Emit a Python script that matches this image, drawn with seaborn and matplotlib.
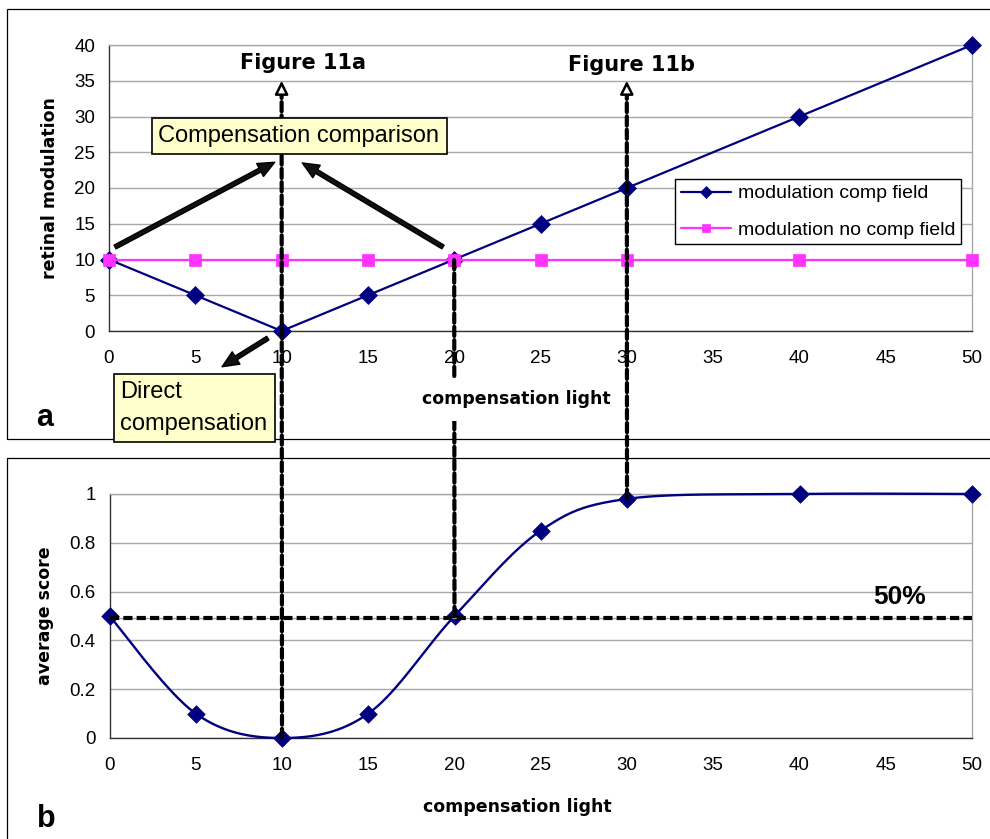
import numpy as np
import pandas as pd
import matplotlib
matplotlib.use("Agg")
import matplotlib.pyplot as plt
import seaborn as sns
from matplotlib.patches import ConnectionPatch, Rectangle

# ---- data -------------------------------------------------------------
light = [0, 5, 10, 15, 20, 25, 30, 40, 50]
mod_comp = [10, 5, 0, 5, 10, 15, 20, 30, 40]
mod_nocomp = [10, 10, 10, 10, 10, 10, 10, 10, 10]
avg_score = [0.5, 0.1, 0.0, 0.1, 0.5, 0.85, 0.98, 1.0, 1.0]

x_ticks = [0, 5, 10, 15, 20, 25, 30, 35, 40, 45, 50]
top_yticks = [0, 5, 10, 15, 20, 25, 30, 35, 40]
bot_yticks = [0, 0.2, 0.4, 0.6, 0.8, 1]
threshold = 0.49          # 50% criterion line
arrow_top = 35            # tip of the vertical "Figure 11" arrows

NAVY = "#000080"
MAGENTA = "#FF33FF"
GRID = "#a8a8a8"
BOX = "#FFFFCC"

sns.set_style("white")
plt.rcParams["font.family"] = ["Liberation Sans", "DejaVu Sans"]
plt.rcParams.update({"text.color": "black", "axes.labelcolor": "black",
                     "xtick.color": "black", "ytick.color": "black"})

W, H = 990, 839
fig = plt.figure(figsize=(W / 100, H / 100), dpi=100)


def fx(px):
    return px / W


def fy(py):
    return 1 - py / H


def smooth_curve(xs, ys, n=40):
    """Cubic Bezier smoothing through every point (spreadsheet style)."""
    P = np.column_stack([xs, ys]).astype(float)
    ext = np.vstack([P[0], P, P[-1]])
    t = np.linspace(0, 1, n)[:, None]
    parts = []
    for i in range(len(P) - 1):
        p0, p1, p2, p3 = ext[i], ext[i + 1], ext[i + 2], ext[i + 3]
        b1 = p1 + (p2 - p0) / 6
        b2 = p2 - (p3 - p1) / 6
        seg = (1 - t) ** 3 * p1 + 3 * (1 - t) ** 2 * t * b1 + 3 * (1 - t) * t ** 2 * b2 + t ** 3 * p2
        parts.append(seg if i == 0 else seg[1:])
    return np.vstack(parts)


ax_top = fig.add_axes([fx(109), fy(331), fx(863), 286 / H])
ax_bot = fig.add_axes([fx(109.5), fy(738), fx(862.5), 244 / H])

# ---- panel a ----------------------------------------------------------
sns.lineplot(x=light, y=mod_comp, ax=ax_top, color=NAVY, lw=1.6, marker="D",
             markersize=8.8, markeredgecolor=NAVY, markeredgewidth=0.5,
             label="modulation comp field", clip_on=False, zorder=3)
sns.lineplot(x=light, y=mod_nocomp, ax=ax_top, color=MAGENTA, lw=1.6, marker="s",
             markersize=8.8, markeredgecolor=MAGENTA, markeredgewidth=0.5,
             label="modulation no comp field", clip_on=False, zorder=4)

# ---- panel b ----------------------------------------------------------
curve = smooth_curve(light, avg_score)
sns.lineplot(x=curve[:, 0], y=curve[:, 1], ax=ax_bot, sort=False, estimator=None,
             color=NAVY, lw=1.7, clip_on=False, zorder=3)
sns.scatterplot(x=light, y=avg_score, ax=ax_bot, marker="D", s=80, color=NAVY,
                edgecolor=NAVY, linewidth=0.5, clip_on=False, zorder=4)

for ax, yt in ((ax_top, top_yticks), (ax_bot, bot_yticks)):
    ax.set_xlim(0, 50)
    ax.set_ylim(yt[0], yt[-1])
    ax.set_xticks(x_ticks)
    ax.set_yticks(yt)
    ax.set_yticklabels([f"{v:g}" for v in yt])
    ax.yaxis.grid(True, color=GRID, lw=1)
    ax.xaxis.grid(False)
    ax.set_facecolor("white")
    for side in ("left", "bottom"):
        ax.spines[side].set_color("#333333")
        ax.spines[side].set_linewidth(1)
    for side in ("right", "top"):
        ax.spines[side].set_color(GRID)
        ax.spines[side].set_linewidth(1)
    ax.tick_params(axis="both", direction="out", length=4, width=1,
                   color="#333333", labelsize=13.5, labelcolor="black")
    ax.tick_params(axis="x", pad=9.5)
    ax.tick_params(axis="y", pad=6)

bold_label = dict(family="DejaVu Sans", fontweight="bold", fontsize=12.5)
ax_top.set_ylabel("retinal modulation", **bold_label)
ax_top.yaxis.set_label_coords((59 - 109) / 863, 0.5)
ax_bot.set_ylabel("average score", **bold_label)
ax_bot.yaxis.set_label_coords((54.5 - 109.5) / 862.5, 0.5)
ax_bot.set_xlabel("compensation light", **bold_label)
ax_bot.xaxis.set_label_coords((517 - 109.5) / 862.5, (738 - 797.5) / 244)
ax_top.set_xlabel("")

leg = ax_top.legend(loc="upper left", bbox_to_anchor=((675 - 109) / 863, (331 - 179) / 286),
                    borderaxespad=0, frameon=True, fancybox=False, framealpha=1,
                    edgecolor="black", fontsize=14, handlelength=2.6,
                    handletextpad=0.33, borderpad=0.3, labelspacing=0.95,
                    markerscale=0.65)
leg.get_frame().set_linewidth(1)
leg.set_zorder(6)

# ---- outer frames of the two panels -----------------------------------
fig.add_artist(Rectangle((fx(7), fy(439)), 2, (439 - 9) / H, transform=fig.transFigure,
                         fill=False, ec="black", lw=0.9, zorder=0.5))
fig.add_artist(Rectangle((fx(7), -1), 2, 1 + fy(458), transform=fig.transFigure,
                         fill=False, ec="black", lw=0.9, zorder=0.5))


# ---- dashed guide lines linking the panels ----------------------------
def dashed_link(xy_a, ax_a, xy_b, ax_b):
    for kw in (dict(color="#9a9a9a", lw=0.9),
               dict(color="black", lw=3, linestyle=(0, (2.2, 1.0)))):
        fig.add_artist(ConnectionPatch(xyA=xy_a, coordsA=ax_a.transData,
                                       xyB=xy_b, coordsB=ax_b.transData,
                                       zorder=2, **kw))


dashed_link((10, 0), ax_bot, (10, arrow_top - 2.2), ax_top)
dashed_link((30, avg_score[6]), ax_bot, (30, arrow_top - 2.2), ax_top)
dashed_link((20, avg_score[4]), ax_bot, (20, mod_nocomp[4]), ax_top)

ax_bot.axhline(threshold, color="#9a9a9a", lw=0.9, zorder=5)
ax_bot.axhline(threshold, color="black", lw=3, linestyle=(0, (2.2, 1.0)), zorder=5)

for xv in (10, 30):
    ax_top.annotate("", xy=(xv, arrow_top), xytext=(xv, arrow_top - 2.3),
                    annotation_clip=False,
                    arrowprops=dict(arrowstyle="-|>,head_length=0.8,head_width=0.4",
                                    lw=1.8, fc="white", ec="black",
                                    shrinkA=0, shrinkB=0))

# ---- solid black pointer arrows ----------------------------------------
arrow_kw = dict(arrowstyle="simple,head_length=0.85,head_width=0.75,tail_width=0.22",
                fc="#111111", ec="black", lw=1.0, mutation_scale=14,
                shrinkA=0, shrinkB=0)
for tail, head in (((0.35, 11.75), (9.6, 23.6)),
                   ((19.35, 11.75), (11.2, 23.5)),
                   ((9.2, -1.0), (6.55, -5.0))):
    ax_top.annotate("", xy=head, xytext=tail, annotation_clip=False,
                    arrowprops=arrow_kw)

# ---- text call-outs ---------------------------------------------------
fig.add_artist(Rectangle((fx(152), fy(154)), fx(447 - 152), (154 - 118) / H,
                         transform=fig.transFigure, fc=BOX, ec="black", lw=1.2, zorder=3))
fig.text(fx(158), fy(142), "Compensation comparison", fontsize=17,
         ha="left", va="baseline", zorder=4)

fig.add_artist(Rectangle((fx(114), fy(442)), fx(275 - 114), (442 - 374) / H,
                         transform=fig.transFigure, fc=BOX, ec="black", lw=1.2, zorder=3))
fig.text(fx(120), fy(398), "Direct", fontsize=17, ha="left", va="baseline", zorder=4)
fig.text(fx(120), fy(430), "compensation", fontsize=17, ha="left", va="baseline", zorder=4)

fig.text(fx(516), fy(404), "compensation light", ha="center", va="baseline", zorder=4,
         bbox=dict(fc="white", ec="none", pad=9), **bold_label)

fig.text(fx(303), fy(69), "Figure 11a", family="DejaVu Sans", fontweight="bold",
         fontsize=15, ha="center", va="baseline", zorder=4)
fig.text(fx(631), fy(71), "Figure 11b", family="DejaVu Sans", fontweight="bold",
         fontsize=15, ha="center", va="baseline", zorder=4)
fig.text(fx(900), fy(604), "50%", fontweight="bold", fontsize=19,
         ha="center", va="baseline", zorder=4)

fig.text(fx(36), fy(426), "a", fontweight="bold", fontsize=22, ha="left", va="baseline")
fig.text(fx(37), fy(827), "b", fontweight="bold", fontsize=22, ha="left", va="baseline")

fig.savefig("out.png", dpi=100)
